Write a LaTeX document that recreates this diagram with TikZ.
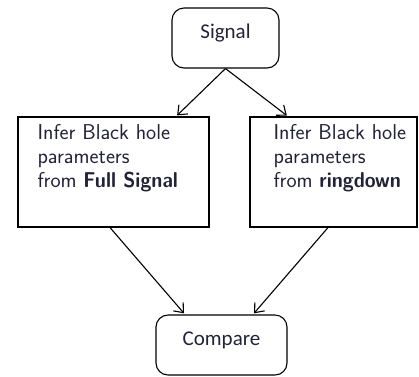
\documentclass[tikz,border=0pt]{standalone}
\usepackage{fontspec}
\usepackage{graphicx}
\usepackage{tikz}
\usetikzlibrary{arrows.meta}
\newfontfamily\calfont{Carlito}
\definecolor{inkcol}{RGB}{35,35,55}
\newcommand{\boldcond}[1]{\scalebox{0.92}[1]{\bfseries #1}}

\begin{document}
\begin{tikzpicture}[x=1pt,y=-1pt,line width=1.1pt]
\tikzstyle{every node}=[text=inkcol,inner sep=0pt]
\tikzstyle{endbox}=[draw=black,rounded corners=12pt,minimum height=60pt,text height=9pt,text depth=9pt,font=\calfont\fontsize{21}{24}\selectfont]
\tikzstyle{infbox}=[draw=black,minimum height=110pt]
\tikzstyle{inftext}=[anchor=north west,align=left,font=\sffamily\fontsize{21.5}{24}\selectfont]
\tikzstyle{arr}=[-{Straight Barb[length=8pt,width=13pt]},shorten >=1.5pt]
\useasboundingbox (0,0) rectangle (419,376);

\node[endbox,minimum width=107pt] (sig) at (225.5,38) {Signal};
\node[infbox,minimum width=191pt] (full) at (113.5,172) {};
\node[infbox,minimum width=167pt] (ring) at (333.5,172) {};
\node[endbox,minimum width=131pt] (comp) at (221.5,345) {Compare};

\node[inftext] (fulltext) at (37,124) {Infer Black hole\\parameters\\from \boldcond{Full Signal}};
\node[inftext] (ringtext) at (273,124) {Infer Black hole\\parameters\\from \boldcond{ringdown}};

\draw[arr] (sig.south) -- ([xshift=62.5pt]full.north);
\draw[arr] (sig.south) -- ([xshift=-45.5pt]ring.north);
\draw[arr] ([xshift=-3.5pt]full.south) -- ([xshift=-36.5pt]comp.north);
\draw[arr] ([xshift=-5.5pt]ring.south) -- ([xshift=31.5pt]comp.north);
\end{tikzpicture}
\end{document}
